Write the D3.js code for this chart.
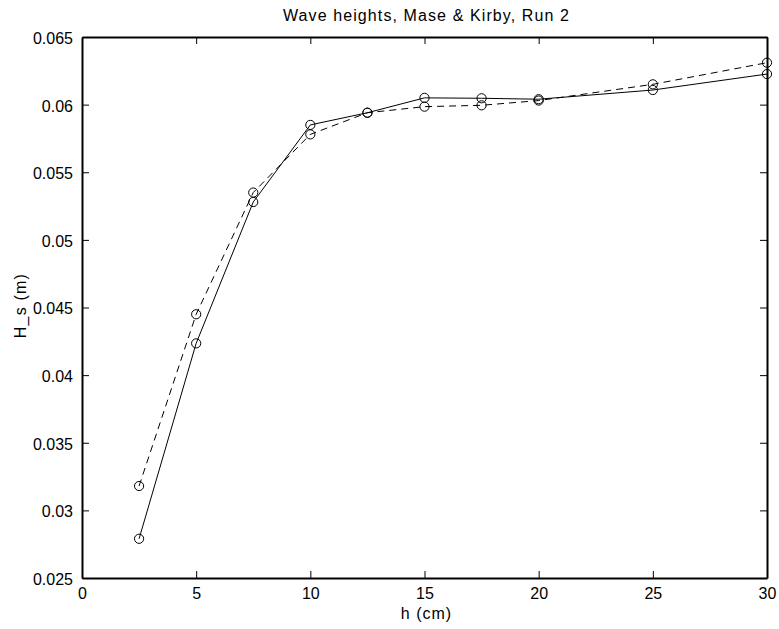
<!DOCTYPE html>
<html>
<head>
<meta charset="utf-8">
<script src="https://cdn.jsdelivr.net/npm/d3@7"></script>
<style>
  body { margin: 0; background: #fff; }
  svg { display: block; font-family: "Liberation Sans", Arial, sans-serif; }
</style>
</head>
<body>
<div id="chart"></div>
<script>
// depth h (cm) and the two H_s series
let depths = [2.5, 5, 7.5, 10, 12.5, 15, 17.5, 20, 25, 30]
let solidHs = [0.0279, 0.04235, 0.0528, 0.0585, 0.0594, 0.0605, 0.06047, 0.0604, 0.06108, 0.06226]
let dashedHs = [0.0318, 0.0445, 0.0535, 0.0578, 0.0594, 0.05985, 0.05995, 0.0603, 0.0615, 0.0631]

let xTicks = [0, 5, 10, 15, 20, 25, 30]
let yTicks = [0.025, 0.03, 0.035, 0.04, 0.045, 0.05, 0.055, 0.06, 0.065]
let yTickLabels = ['0.025', '0.03', '0.035', '0.04', '0.045', '0.05', '0.055', '0.06', '0.065']

let width = 779
let height = 629
let margin = {top: 37, right: 12, bottom: 51, left: 82}
let w = width - margin.left - margin.right
let h = height - margin.top - margin.bottom

let svg = d3.select('#chart').append('svg')
  .attr('width', width)
  .attr('height', height)

let g = svg.append('g')
  .attr('transform', `translate(${margin.left},${margin.top})`)

let x = d3.scaleLinear().domain([0, 30]).range([0, w])
let y = d3.scaleLinear().domain([0.025, 0.065]).range([h, 0])

let tickLen = 7

// axes: ticks pointing inward, mirrored on top/right
let xAxis = g.append('g')
  .attr('transform', `translate(0,${h})`)
  .call(d3.axisBottom(x).tickValues(xTicks).tickSizeInner(-tickLen).tickSizeOuter(0).tickPadding(10))
let xTop = g.append('g')
  .call(d3.axisTop(x).tickValues(xTicks).tickSizeInner(-tickLen).tickSizeOuter(0).tickFormat(''))
let yAxis = g.append('g')
  .call(d3.axisLeft(y).tickValues(yTicks).tickSizeInner(-tickLen).tickSizeOuter(0).tickPadding(9)
    .tickFormat((d, i) => yTickLabels[i]))
let yRight = g.append('g')
  .attr('transform', `translate(${w},0)`)
  .call(d3.axisRight(y).tickValues(yTicks).tickSizeInner(-tickLen).tickSizeOuter(0).tickFormat(''))

;[xAxis, xTop, yAxis, yRight].forEach(a => {
  a.select('.domain').attr('stroke', '#000').attr('stroke-width', 2)
  a.selectAll('.tick line').attr('stroke', '#000').attr('stroke-width', 1)
  a.selectAll('.tick text')
    .attr('fill', '#000')
    .style('font-size', '16px')
    .style('font-family', '"Liberation Sans", Arial, sans-serif')
})
yAxis.selectAll('.tick text').attr('dy', '0.4em')

let line = d3.line()
  .x((d, i) => x(depths[i]))
  .y(d => y(d))

let series = [
  {values: solidHs, dash: null},
  {values: dashedHs, dash: '7,5'}
]

series.forEach(s => {
  g.append('path')
    .datum(s.values)
    .attr('d', line)
    .attr('fill', 'none')
    .attr('stroke', '#000')
    .attr('stroke-width', 1)
    .attr('stroke-dasharray', s.dash)

  g.selectAll(null)
    .data(s.values)
    .enter().append('circle')
    .attr('cx', (d, i) => x(depths[i]))
    .attr('cy', d => y(d))
    .attr('r', 4.6)
    .attr('fill', 'none')
    .attr('stroke', '#000')
    .attr('stroke-width', 1)
})

svg.append('text')
  .attr('x', margin.left + w / 2 + 2)
  .attr('y', 21)
  .attr('text-anchor', 'middle')
  .style('font-size', '16px')
  .style('letter-spacing', '1.1px')
  .text('Wave heights, Mase & Kirby, Run 2')

svg.append('text')
  .attr('x', margin.left + w / 2 + 2)
  .attr('y', 619)
  .attr('text-anchor', 'middle')
  .style('font-size', '16px')
  .style('letter-spacing', '1px')
  .text('h (cm)')

svg.append('text')
  .attr('transform', `translate(26,${margin.top + h / 2 - 2}) rotate(-90)`)
  .attr('text-anchor', 'middle')
  .style('font-size', '16px')
  .style('letter-spacing', '1.2px')
  .text('H_s (m)')
</script>
</body>
</html>
